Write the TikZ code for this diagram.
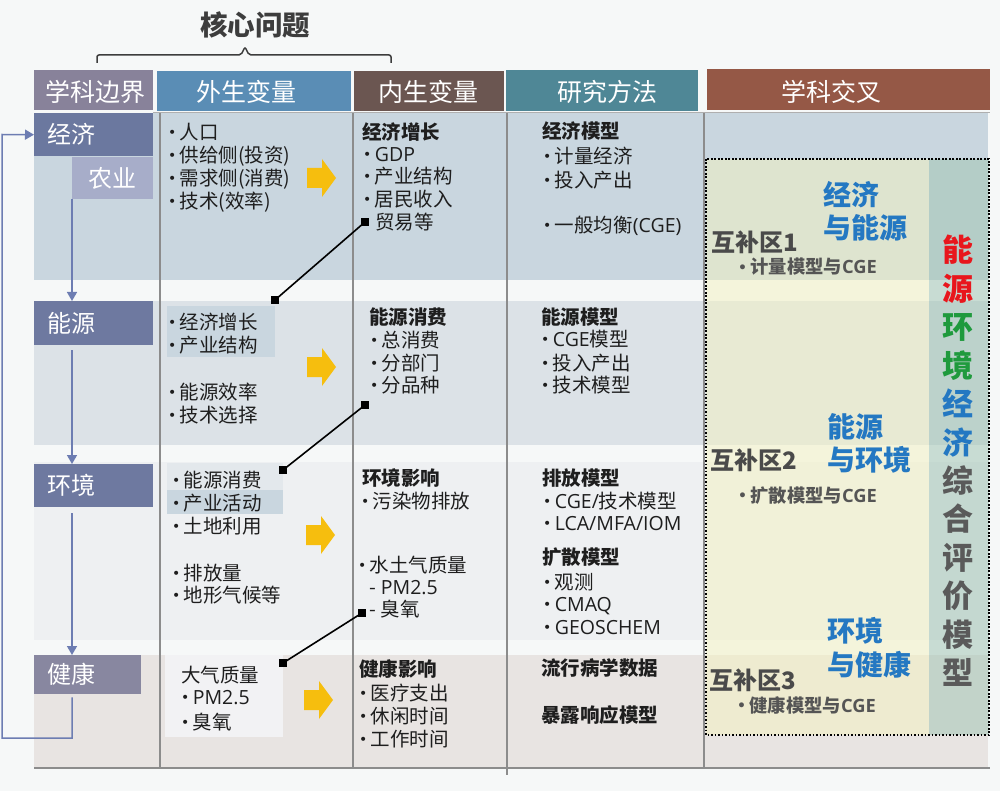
\documentclass[tikz,border=0pt]{standalone}
\usepackage{fontspec}
\setmainfont{Noto Sans CJK SC}
\newfontfamily\symf{DejaVu Sans}
\newfontfamily\latf{Open Sans}
\usetikzlibrary{arrows.meta}
\definecolor{pagebg}{HTML}{F6F8F8}
\definecolor{rowA}{HTML}{C9D6DF}
\definecolor{rowB}{HTML}{DCE2E7}
\definecolor{rowC}{HTML}{EEF0F2}
\definecolor{rowD}{HTML}{E8E4E2}
\definecolor{hlC}{HTML}{E3E8EC}
\definecolor{hlD}{HTML}{F2F2F4}
\definecolor{ovY}{HTML}{F4F2C0}
\definecolor{ovG}{HTML}{A3C6B5}
\definecolor{colline}{HTML}{8C8C8C}
\definecolor{txtc}{HTML}{1E1E1E}
\definecolor{hbc}{HTML}{4A4A4A}
\definecolor{hsc}{HTML}{555555}
\definecolor{blu}{HTML}{2478C2}
\definecolor{vred}{HTML}{E8161C}
\definecolor{vgrn}{HTML}{1F9A3D}
\definecolor{vgry}{HTML}{5A5A5A}
\definecolor{yel}{HTML}{F6BE0E}
\definecolor{flowc}{HTML}{6D7DB2}
\definecolor{hA}{HTML}{88829A}
\definecolor{hB}{HTML}{5A8DB5}
\definecolor{hC}{HTML}{6B5651}
\definecolor{hD}{HTML}{4F8796}
\definecolor{hE}{HTML}{955846}
\definecolor{econc}{HTML}{6B789F}
\definecolor{agric}{HTML}{A7ADC9}
\definecolor{labc}{HTML}{6E79A0}
\definecolor{hlthc}{HTML}{8887A0}
\definecolor{bracec}{HTML}{3D3D3D}
\newcommand\bu{\raisebox{1.6pt}{\symf\fontsize{14pt}{14pt}\selectfont •}\hspace{3.4pt}}
\newcommand\lat[1]{{\latf #1}}
\begin{document}
\begin{tikzpicture}[x=1pt,y=-1pt,
 t/.style={anchor=base west, inner sep=0pt, yshift=-7.4pt, font=\fontsize{19.5pt}{19.5pt}\selectfont, text=txtc},
 tb/.style={t, font=\fontsize{19.5pt}{19.5pt}\selectfont\bfseries},
 hd/.style={anchor=base, inner sep=0pt, yshift=-9.5pt, font=\fontsize{25pt}{25pt}\selectfont, text=white},
 lab/.style={anchor=north west, inner xsep=13pt, inner ysep=0pt, align=left, text=white, font=\fontsize{24pt}{24pt}\selectfont},
 hb/.style={anchor=base west, inner sep=0pt, yshift=-9.1pt, font=\fontsize{24pt}{24pt}\selectfont\bfseries, text=hbc},
 hs/.style={anchor=base west, inner sep=0pt, yshift=-7pt, font=\fontsize{18.3pt}{18.3pt}\selectfont\bfseries, text=hsc},
 bl/.style={anchor=base west, inner sep=0pt, yshift=-10.6pt, font=\fontsize{28pt}{28pt}\selectfont\bfseries, text=blu},
 vt/.style={anchor=base, inner sep=0pt, yshift=-11.8pt, font=\fontsize{31pt}{31pt}\selectfont\bfseries},
 sq/.style={fill=black, minimum size=8pt, inner sep=0pt},
 conn/.style={draw=black, line width=1.6pt},
 flow/.style={draw=flowc, line width=1.5pt, -{Triangle[width=10pt,length=9pt]}},
 colsep/.style={draw=colline, line width=1.5pt},
 yarr/.pic={\fill[yel] (-15,-10) -- (0,-10) -- (0,-19) -- (14,0) -- (0,19) -- (0,10) -- (-15,10) -- cycle;}
]
\useasboundingbox (0,0) rectangle (1000,791);
\fill[pagebg] (0,0) rectangle (1000,791);
% rows
\fill[rowA] (34,113) rectangle (988,280);
\fill[rowB] (34,301) rectangle (988,445);
\fill[rowC] (34,462) rectangle (988,640);
\fill[rowD] (34,655) rectangle (988,767);
% highlights
\fill[rowA] (167,306) rectangle (275,357);
\fill[hlC] (167,463) rectangle (283,490);
\fill[rowA] (167,490) rectangle (283,514);
\fill[hlD] (165,655) rectangle (283,737);
% overlay
\fill[ovY, opacity=.5] (706,159) rectangle (929,735);
\fill[ovG, opacity=.55] (929,159) rectangle (989,735);
\draw[black, line width=1.6pt, dash pattern=on 1.6pt off 1.9pt] (706,159) rectangle (989,735);
% column separators
\draw[colsep] (160,113) -- (160,768);
\draw[colsep] (353,113) -- (353,768);
\draw[colsep] (507,113) -- (507,775);
\draw[colsep] (704,113) -- (704,768);
\draw[draw=colline!70, line width=1pt] (153,112.5) -- (990,112.5);
\draw[draw=colline, line width=2.5pt] (34,768) -- (990,768);
% title and brace
\node[anchor=base, inner sep=0pt, yshift=-10.4pt, font=\fontsize{27.5pt}{27.5pt}\selectfont\bfseries, text=bracec] (ttl) at (255,25) {核心问题};
\draw[bracec, line width=1.5pt, rounded corners=2pt] (97,63) -- (97,55) -- (241,55) -- (245,47) -- (249,55) -- (391,55) -- (391,63);
% headers
\fill[hA] (34,70) rectangle (153,110);
\fill[hB] (157,71) rectangle (351,111);
\fill[hC] (354,71) rectangle (504,111);
\fill[hD] (506,70) rectangle (698,111);
\fill[hE] (707,69) rectangle (990,110);
\node[hd] (hdA) at (95,92) {学科边界};
\node[hd] (hdB) at (246,92) {外生变量};
\node[hd] (hdC) at (428,92) {内生变量};
\node[hd] (hdD) at (607,92) {研究方法};
\node[hd] (hdE) at (831,92) {学科交叉};
% left labels
\node[lab, fill=econc, text width=93pt, minimum height=43pt] (econ) at (34,113) {经济};
\node[lab, fill=agric, text width=71pt, inner xsep=5pt, align=center, minimum height=42pt] (agri) at (72,157) {农业};
\node[lab, fill=labc, text width=93pt, minimum height=44pt] (nrg) at (34,301) {能源};
\node[lab, fill=labc, text width=93pt, minimum height=43pt] (env) at (34,464) {环境};
\node[lab, fill=hlthc, text width=81pt, minimum height=39pt] (hlth) at (34,655) {健康};
% flow arrows
\coordinate (fx) at (72,0);
\coordinate (lp1) at (72,738);
\coordinate (lp2) at (2,738);
\coordinate (lp3) at (2,134.5);
\draw[flow] (agri.south west) -- (agri.south west |- nrg.north);
\draw[flow] ([yshift=-5pt]nrg.south -| fx) -- (env.north -| fx);
\draw[flow] ([yshift=-6pt]env.south -| fx) -- (hlth.north -| fx);
\draw[flow] ([yshift=-3pt]hlth.south -| fx) -- (lp1) -- (lp2) -- (lp3) -- (econ.west);
% yellow arrows
\pic at (322,178) {yarr};
\pic at (322,367) {yarr};
\pic at (321,535) {yarr};
\pic at (319,700) {yarr};
% row 1
\node[t] (a1) at (168,132) {\bu 人口};
\node[t] (a2) at (168,155) {\bu 供给侧(投资)};
\node[t] (a3) at (168,178) {\bu 需求侧(消费)};
\node[t] (a4) at (168,201) {\bu 技术(效率)};
\node[tb] (b0) at (362,132) {经济增长};
\node[t] (b1) at (363,154) {\bu \lat{GDP}};
\node[t] (b2) at (363,176) {\bu 产业结构};
\node[t] (b3) at (363,199) {\bu 居民收入};
\node[t] (b4) at (375,222) {贸易等};
\node[tb] (c0) at (542,131) {经济模型};
\node[t] (c1) at (543,156) {\bu 计量经济};
\node[t] (c2) at (543,180) {\bu 投入产出};
\node[t] (c3) at (543,225) {\bu 一般均衡\lat{(CGE)}};
% row 2
\node[t] (d1) at (168,322) {\bu 经济增长};
\node[t] (d2) at (168,345) {\bu 产业结构};
\node[t] (d3) at (168,392) {\bu 能源效率};
\node[t] (d4) at (168,415) {\bu 技术选择};
\node[tb] (e0) at (369,317) {能源消费};
\node[t] (e1) at (370,340) {\bu 总消费};
\node[t] (e2) at (370,363) {\bu 分部门};
\node[t] (e3) at (370,385) {\bu 分品种};
\node[tb] (f0) at (541,317) {能源模型};
\node[t] (f1) at (541,339) {\bu \lat{CGE}模型};
\node[t] (f2) at (541,363) {\bu 投入产出};
\node[t] (f3) at (541,385) {\bu 技术模型};
% row 3
\node[t] (g1) at (172,480) {\bu 能源消费};
\node[t] (g2) at (172,503) {\bu 产业活动};
\node[t] (g3) at (172,526) {\bu 土地利用};
\node[t] (g4) at (172,573) {\bu 排放量};
\node[t] (g5) at (172,595) {\bu 地形气候等};
\node[tb] (h0) at (362,478) {环境影响};
\node[t] (h1) at (361,501) {\bu 污染物排放};
\node[t] (h2) at (358,565) {\bu 水土气质量};
\node[t] (h3) at (369,587) {-\hspace{5pt}\lat{PM2.5}};
\node[t] (h4) at (369,609) {-\hspace{5pt}臭氧};
\node[tb] (i0) at (542,478) {排放模型};
\node[t] (i1) at (543,501) {\bu \lat{CGE/}技术模型};
\node[t] (i2) at (543,523) {\bu \lat{LCA/MFA/IOM}};
\node[tb] (i3) at (542,557) {扩散模型};
\node[t] (i4) at (543,582) {\bu 观测};
\node[t] (i5) at (543,604) {\bu \lat{CMAQ}};
\node[t] (i6) at (543,627) {\bu \lat{GEOSCHEM}};
% row 4
\node[t] (j0) at (181,675) {大气质量};
\node[t] (j1) at (181,697) {\bu \lat{PM2.5}};
\node[t] (j2) at (181,722) {\bu 臭氧};
\node[tb] (k0) at (359,669) {健康影响};
\node[t] (k1) at (359,693) {\bu 医疗支出};
\node[t] (k2) at (359,716) {\bu 休闲时间};
\node[t] (k3) at (359,739) {\bu 工作时间};
\node[tb] (l0) at (541,668) {流行病学数据};
\node[tb] (l1) at (541,715) {暴露响应模型};
% connectors
\node[sq] (s1a) at (365,222) {};
\node[sq] (s1b) at (275,300) {};
\node[sq] (s2a) at (365,405) {};
\node[sq] (s2b) at (283,470) {};
\node[sq] (s3a) at (362,613) {};
\node[sq] (s3b) at (283,663) {};
\draw[conn] (s1a.center) -- (s1b.center);
\draw[conn] (s2a.center) -- (s2b.center);
\draw[conn] (s3a.center) -- (s3b.center);
% right region
\node[hb] (m1) at (711,242) {互补区1};
\node[hs] (m1s) at (738,267) {\bu 计量模型与\lat{CGE}};
\node[hb] (m2) at (710,460) {互补区2};
\node[hs] (m2s) at (738,495) {\bu 扩散模型与\lat{CGE}};
\node[hb] (m3) at (709,680) {互补区3};
\node[hs] (m3s) at (737,705) {\bu 健康模型与\lat{CGE}};
\node[bl] (n1a) at (823,195) {经济};
\node[bl] (n1b) at (823,228) {与能源};
\node[bl] (n2a) at (827,427) {能源};
\node[bl] (n2b) at (827,460) {与环境};
\node[bl] (n3a) at (827,631) {环境};
\node[bl] (n3b) at (827,665) {与健康};
\foreach \c/\col [count=\i] in {能/vred,源/vred,环/vgrn,境/vgrn,经/blu,济/blu,综/vgry,合/vgry,评/vgry,价/vgry,模/vgry,型/vgry}
  \node[vt, text=\col] (v\i) at (958,{250+(\i-1)*38.45}) {\c};
\end{tikzpicture}
\end{document}
